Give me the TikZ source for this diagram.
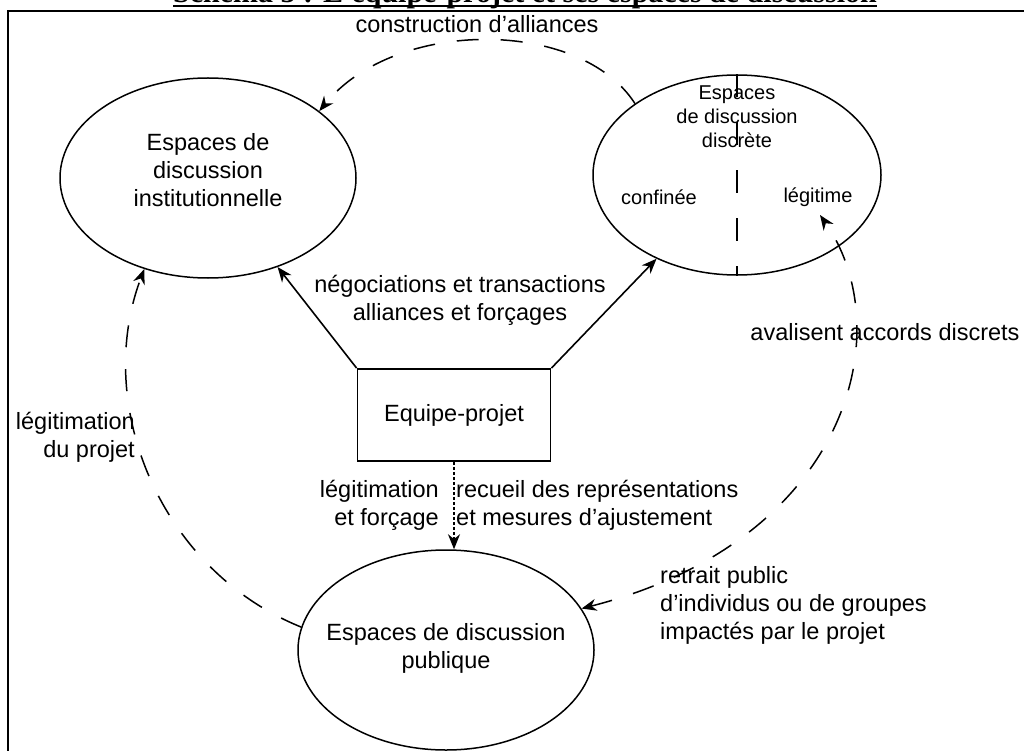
\documentclass[tikz,border=0pt]{standalone}
\usepackage{fontspec}
\setmainfont{Liberation Sans}
\newfontfamily\titrefont{Liberation Serif}
\usetikzlibrary{shapes.geometric,arrows.meta,positioning}

\tikzset{
	espace/.style={draw, ellipse, line width=1.5pt, inner sep=0pt},
	texte/.style={font=\fontsize{23.5}{28}\selectfont, align=center, inner sep=0pt},
	petit/.style={font=\fontsize{20}{24}\selectfont, align=center, inner sep=0pt},
	fleche/.style={line width=1.6pt, ->},
	tiret/.style={line width=1.5pt, dash pattern=on 22pt off 22pt},
}

\begin{document}
\begin{tikzpicture}[x=1pt,y=-1pt,>={Stealth[length=15pt,width=12pt]}]
	\useasboundingbox (0,0) rectangle (1024,751);
	\draw[line width=2.5pt] (8,760) -- (8,11) -- (1030,11);
	\node[anchor=base, inner sep=0pt, font=\titrefont\bfseries\fontsize{30}{30}\selectfont] (titre) at (525,3) {Schéma 5 : L'équipe-projet et ses espaces de discussion};
	\draw[line width=2pt] ([yshift=-3pt]titre.base west) -- ([yshift=-3pt]titre.base east);

	\node[espace, minimum width=296, minimum height=200] (instit) at (208,178) {};
	\node[texte] (instit texte) at (208,170) {Espaces de\\discussion\\institutionnelle};
	\node[espace, minimum width=288, minimum height=200] (discret) at (737,175) {};
	\node[petit] (discret texte) at (737,117) {Espaces\\de discussion\\discrète};
	\node[petit] (confinee) at (659,197) {confinée};
	\node[petit] (legitime) at (818,197) {légitime};
	\draw[line width=1.5pt, dash pattern=on 23pt off 25pt] (discret.north) -- (discret.south);
	\node[espace, minimum width=296, minimum height=200] (public) at (446,650) {};
	\node[texte] (public texte) at (446,648) {Espaces de discussion\\publique};
	\node[texte, draw, line width=1.8pt, minimum width=193, minimum height=92] (equipe) at (454,415) {Equipe-projet};
	\coordinate (legit) at (820,215);

	\draw[fleche] (equipe.north west) -- (instit);
	\draw[fleche] (equipe.north east) -- (discret);
	\draw[line width=1.3pt, dash pattern=on 3pt off 2pt, ->] (equipe.south) -- (equipe.south |- public.north);

	\draw[tiret, ->] (discret.145) .. controls (580,18) and (395,18) .. (instit.31);
	\draw[tiret, ->] (public.171) .. controls (160,570) and (93,405) .. (instit.235);
	\draw[tiret, <->] (public.17) .. controls (850,540) and (900,330) .. (legit);

	\node[texte] (construction) at (477,24) {construction d'alliances};
	\node[texte] (negociations) at (460,300) {négociations et transactions\\alliances et forçages};
	\node[texte, align=right, anchor=east] (legitimation) at (439,505) {légitimation\\et forçage};
	\node[texte, align=left, anchor=west] (recueil) at (456,505) {recueil des représentations\\et mesures d'ajustement};
	\node[texte, align=right, anchor=east] (legit projet) at (135,437) {légitimation\\du projet};
	\node[texte] (avalisent) at (885,332) {avalisent accords discrets};
	\node[texte, align=left, anchor=west] (retrait) at (660,605) {retrait public\\d'individus ou de groupes\\impactés par le projet};
\end{tikzpicture}
\end{document}
